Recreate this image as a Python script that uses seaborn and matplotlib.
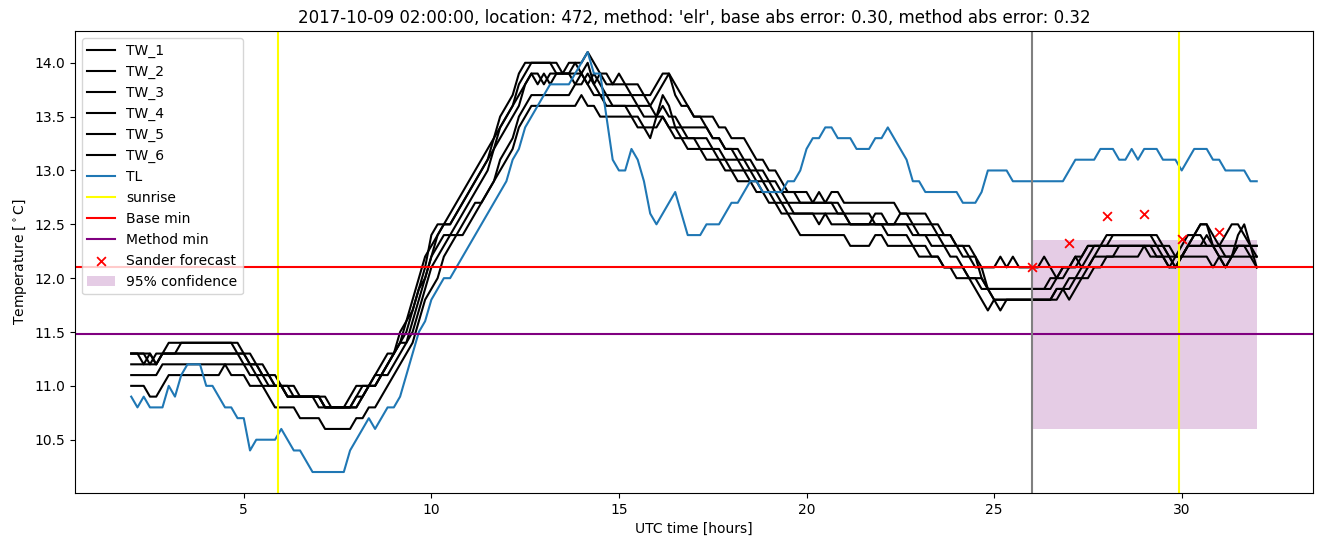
import numpy as np
import matplotlib
matplotlib.use("Agg")
import matplotlib.pyplot as plt
import seaborn as sns

# ---------------- data (hour of change, value) ----------------
T_START, T_END, STEPS_PER_HOUR = 2.0, 32.0, 6

TW_1 = [(2.0,11.3),(2.5,11.2),(2.67,11.3),(3.0,11.4),(4.83,11.3),(5.17,11.2),(5.5,11.1),(5.83,11.0),
        (6.17,10.9),(7.0,10.8),(7.83,10.9),(8.0,11.0),(8.5,11.1),(8.67,11.2),(8.83,11.3),(9.17,11.4),
        (9.33,11.6),(9.5,11.7),(9.67,11.9),(9.83,12.1),(10.0,12.4),(10.17,12.5),(10.5,12.6),(10.67,12.7),
        (10.83,12.8),(11.0,12.9),(11.17,13.0),(11.33,13.1),(11.5,13.2),(11.67,13.3),(11.83,13.5),(12.0,13.6),
        (12.17,13.7),(12.33,13.9),(12.5,14.0),(13.33,13.9),(13.83,14.0),(14.17,14.1),(14.33,14.0),(14.5,13.9),
        (14.83,13.8),(15.0,13.9),(15.17,13.8),(15.67,13.7),(16.0,13.8),(16.17,13.9),(16.5,13.8),(16.67,13.7),
        (16.83,13.6),(17.0,13.5),(17.67,13.4),(18.0,13.3),(18.5,13.2),(18.67,13.1),(19.0,13.0),(19.33,12.9),
        (19.5,12.8),(20.17,12.7),(20.33,12.8),(20.5,12.7),(20.67,12.8),(21.0,12.7),(22.5,12.6),(23.33,12.5),
        (23.67,12.4),(24.0,12.3),(24.5,12.2),(24.67,12.1),(25.17,12.2),(25.33,12.1),(25.5,12.2),(25.67,12.1),
        (26.33,12.2),(26.5,12.1),(26.67,12.0),(26.83,12.1),(27.33,12.2),(27.5,12.3),(28.0,12.4),(29.33,12.3),
        (29.5,12.2),(29.67,12.1),(29.83,12.2),(30.0,12.3),(30.17,12.4),(30.5,12.5),(30.83,12.4),(31.0,12.3),
        (31.17,12.4),(31.33,12.5),(31.67,12.4),(31.83,12.3),(32.0,12.2)]

TW_2 = [(2.0,11.3),(2.67,11.2),(2.83,11.3),(3.33,11.4),(5.0,11.3),(5.33,11.2),(5.67,11.1),(6.0,11.0),
        (6.5,10.9),(7.17,10.8),(8.0,10.9),(8.17,11.0),(8.5,11.1),(8.83,11.2),(9.0,11.3),(9.17,11.4),
        (9.33,11.5),(9.5,11.7),(9.67,11.9),(9.83,12.0),(10.0,12.2),(10.17,12.4),(10.33,12.5),(10.67,12.6),
        (10.83,12.7),(11.0,12.8),(11.17,12.9),(11.33,13.0),(11.5,13.1),(11.67,13.3),(11.83,13.4),(12.0,13.5),
        (12.17,13.6),(12.33,13.8),(12.5,13.9),(12.67,14.0),(13.5,13.9),(13.67,14.0),(14.0,13.9),(14.17,14.0),
        (14.33,13.8),(14.5,13.9),(14.67,13.8),(15.33,13.7),(15.83,13.6),(16.0,13.7),(16.17,13.8),(16.33,13.9),
        (16.5,13.7),(16.67,13.6),(17.0,13.5),(17.33,13.4),(17.5,13.3),(17.83,13.2),(18.17,13.1),(18.5,13.0),
        (18.83,12.9),(19.17,12.8),(19.5,12.7),(21.0,12.6),(21.83,12.5),(22.5,12.6),(22.83,12.5),(23.5,12.4),
        (24.0,12.3),(24.33,12.2),(24.67,12.0),(24.83,11.9),(25.0,11.8),(26.67,11.9),(27.0,12.0),(27.33,12.1),
        (27.67,12.2),(27.83,12.3),(28.17,12.4),(29.5,12.3),(29.67,12.2),(29.83,12.1),(30.0,12.2),(30.17,12.3),
        (30.67,12.4),(30.83,12.3),(31.0,12.2),(31.17,12.1),(31.33,12.2),(31.5,12.3)]

TW_3 = [(2.0,11.2),(2.83,11.3),(5.0,11.2),(5.33,11.1),(5.83,11.0),(6.33,10.9),(7.17,10.8),(8.0,10.9),
        (8.33,11.0),(8.67,11.1),(8.83,11.2),(9.0,11.3),(9.17,11.4),(9.5,11.6),(9.67,11.8),(9.83,12.0),
        (10.0,12.2),(10.17,12.3),(10.33,12.4),(10.67,12.5),(10.83,12.6),(11.0,12.7),(11.17,12.8),(11.33,12.9),
        (11.5,13.0),(11.67,13.2),(11.83,13.3),(12.0,13.4),(12.17,13.5),(12.33,13.6),(12.5,13.8),(12.67,13.9),
        (12.83,13.8),(13.0,13.9),(13.17,13.8),(13.33,13.9),(13.83,13.8),(14.0,13.9),(14.17,13.8),(14.33,13.9),
        (14.5,13.8),(14.67,13.7),(15.5,13.6),(16.0,13.5),(16.17,13.6),(16.33,13.5),(16.67,13.4),(17.5,13.3),
        (17.83,13.2),(18.33,13.1),(18.67,13.0),(19.0,12.9),(19.33,12.8),(19.83,12.7),
        (20.83,12.6),(21.17,12.5),(21.83,12.6),(22.17,12.5),(23.0,12.4),(23.67,12.3),(24.17,12.2),(24.5,12.1),
        (24.83,11.9),(25.0,11.8),(25.17,11.7),(25.33,11.8),(26.67,11.9),(27.0,11.8),(27.17,11.9),(27.33,12.0),
        (27.67,12.1),(28.0,12.2),(28.33,12.3),(29.67,12.2),(30.17,12.3),(30.33,12.4),(30.67,12.3),(31.17,12.2),
        (31.5,12.3),(31.83,12.2),(32.0,12.1)]

TW_4 = [(2.0,11.1),(2.83,11.2),(5.17,11.1),(5.5,11.0),(6.17,10.9),(7.33,10.8),(8.17,10.9),(8.33,11.0),
        (8.67,11.1),(9.0,11.2),(9.17,11.3),(9.33,11.4),(9.5,11.5),(9.67,11.7),(9.83,11.9),(10.0,12.1),
        (10.17,12.2),(10.33,12.3),(10.5,12.4),(10.83,12.5),(11.0,12.6),(11.17,12.7),(11.5,12.8),(11.67,12.9),
        (11.83,13.1),(12.0,13.2),(12.17,13.3),(12.33,13.5),(12.5,13.6),(12.67,13.7),(13.83,13.8),(14.17,13.9),
        (14.33,13.8),(14.5,13.7),(14.67,13.6),(15.33,13.5),(15.67,13.4),(15.83,13.3),(16.0,13.5),(16.17,13.7),
        (16.33,13.6),(16.5,13.4),(16.67,13.3),(17.17,13.2),(17.67,13.1),(18.0,13.0),(18.5,12.9),(18.83,12.8),
        (19.17,12.7),(19.5,12.6),(21.17,12.5),(22.83,12.4),(23.33,12.3),(23.83,12.2),(24.17,12.1),(24.33,12.0),
        (24.83,11.9),(26.5,12.0),(26.83,12.1),(27.17,12.2),(27.5,12.3),(29.5,12.3),(29.83,12.2),(30.17,12.3)]

TW_5 = [(2.0,11.0),(2.5,10.9),(2.83,11.0),(3.0,11.1),(4.5,11.2),(4.67,11.1),(5.17,11.0),(5.67,10.9),
        (5.83,10.8),(6.5,10.7),(7.17,10.6),(8.0,10.7),(8.33,10.8),(8.67,10.9),(8.83,11.0),(9.0,11.1),
        (9.17,11.2),(9.33,11.3),(9.5,11.4),(9.67,11.6),(9.83,11.8),(10.0,11.9),(10.17,12.0),(10.33,12.2),
        (10.5,12.3),(10.67,12.4),(11.0,12.5),(11.17,12.6),(11.33,12.7),(11.5,12.8),(11.67,12.9),(11.83,13.0),
        (12.0,13.1),(12.17,13.2),(12.33,13.4),(12.5,13.5),(12.67,13.6),(14.0,13.7),(14.17,13.6),
        (14.5,13.5),(15.5,13.4),(16.17,13.5),(16.33,13.4),(16.5,13.3),
        (16.83,13.2),(17.33,13.1),(17.83,13.0),(18.17,12.9),(18.67,12.8),(19.0,12.7),(19.33,12.6),(19.67,12.5),
        (19.83,12.4),(21.17,12.3),(21.83,12.4),(22.17,12.3),(23.0,12.2),(23.67,12.1),(24.0,12.0),(24.5,11.9),
        (24.67,11.8),(24.83,11.7),(25.0,11.8),(26.83,11.9),(27.17,12.0),(27.5,12.1),(27.67,12.2),(29.0,12.3),
        (29.17,12.2),(29.83,12.1),(30.0,12.2),(30.83,12.1),(31.0,12.2)]

TW_6 = [(2.0,11.3),(2.33,11.2),(2.5,11.3),(2.67,11.2),(2.83,11.3),(5.17,11.2),(5.5,11.1),(5.67,11.0),
        (6.17,10.9),(7.17,10.8),(8.17,10.9),(8.33,11.0),(8.67,11.1),(8.83,11.2),(9.0,11.3),(9.17,11.5),
        (9.33,11.6),(9.5,11.8),(9.67,12.0),(9.83,12.2),(10.0,12.3),(10.17,12.4),(10.33,12.5),(10.67,12.6),
        (10.83,12.7),(11.0,12.8),(11.17,12.9),(11.33,13.0),(11.5,13.1),(11.67,13.2),(11.83,13.4),(12.0,13.5),
        (12.17,13.6),(12.33,13.7),(12.5,13.8),(12.67,13.9),(13.0,13.8),(13.17,13.9),(14.17,13.8),(14.33,13.7),
        (14.83,13.6),(15.67,13.5),(16.33,13.4),(16.83,13.3),
        (17.5,13.2),(17.83,13.1),(18.33,13.0),(18.67,12.9),(19.0,12.8),(19.33,12.7),(19.67,12.6),
        (20.33,12.5),(20.5,12.6),(20.67,12.5),(22.17,12.4),(22.83,12.3),(23.33,12.2),(23.67,12.1),(24.33,12.0),
        (24.67,11.9),(26.67,12.0),(27.0,12.1),(27.17,12.2),(27.33,12.1),(27.5,12.2),(27.67,12.3),(29.33,12.2),
        (29.67,12.1),(30.0,12.2),(30.17,12.3),(30.33,12.4),(30.5,12.5),(30.83,12.3),(31.0,12.2),(31.17,12.1),
        (31.33,12.2),(31.5,12.4),(31.67,12.5),(31.83,12.3),(32.0,12.1)]

TL = [(2.0,10.9),(2.17,10.8),(2.33,10.9),(2.5,10.8),(3.0,11.0),(3.17,10.9),(3.33,11.1),(3.5,11.2),
      (4.0,11.0),(4.33,10.9),(4.5,10.8),(4.83,10.7),(5.17,10.4),(5.33,10.5),(6.0,10.6),(6.17,10.5),
      (6.33,10.4),(6.67,10.3),(6.83,10.2),(7.83,10.4),(8.0,10.5),(8.17,10.6),(8.33,10.7),(8.5,10.6),
      (8.67,10.7),(8.83,10.8),(9.17,10.9),(9.33,11.1),(9.5,11.3),(9.67,11.5),(9.83,11.6),(10.0,11.8),
      (10.17,11.9),(10.33,12.0),(10.67,12.1),(10.83,12.2),(11.0,12.3),(11.17,12.4),(11.33,12.5),(11.5,12.6),
      (11.67,12.7),(11.83,12.8),(12.0,12.9),(12.17,13.1),(12.33,13.2),(12.5,13.4),(12.67,13.5),(12.83,13.6),
      (13.0,13.7),(13.17,13.8),(13.83,13.9),(14.0,14.0),(14.17,14.1),(14.33,13.9),(14.67,13.5),(14.83,13.1),
      (15.0,13.0),(15.33,13.2),(15.5,13.1),(15.67,12.9),(15.83,12.6),(16.0,12.5),(16.17,12.6),(16.33,12.7),
      (16.5,12.8),(16.67,12.6),(16.83,12.4),(17.33,12.5),(17.83,12.6),(18.0,12.7),(18.33,12.8),(18.5,12.9),
      (18.83,12.8),(19.5,12.9),(19.83,13.0),(20.0,13.2),(20.17,13.3),(20.5,13.4),(20.83,13.3),(21.33,13.2),
      (21.83,13.3),(22.17,13.4),(22.33,13.3),(22.5,13.2),(22.67,13.1),(22.83,12.9),(23.17,12.8),(24.17,12.7),
      (24.67,12.8),(24.83,13.0),(25.5,12.9),(27.0,13.0),(27.17,13.1),(27.83,13.2),(28.33,13.1),(28.67,13.2),
      (28.83,13.1),(29.0,13.2),(29.5,13.1),(30.0,13.0),(30.17,13.1),(30.33,13.2),(30.83,13.1),(31.17,13.0),
      (31.83,12.9)]

SUNRISE_HOURS = [5.92, 29.93]
FORECAST_START = 26.0
BASE_MIN = 12.1
METHOD_MIN = 11.48
FORECAST_HOURS = [26, 27, 28, 29, 30, 31]
FORECAST_VALUES = [12.10, 12.33, 12.58, 12.60, 12.36, 12.43]
CONF_HOURS = [26, 32]
CONF_LOW = [10.6, 10.6]
CONF_HIGH = [12.35, 12.35]

TITLE = ("2017-10-09 02:00:00, location: 472, method: 'elr', "
         "base abs error: 0.30, method abs error: 0.32")

# ---------------- helpers ----------------
n_samples = int(round((T_END - T_START) * STEPS_PER_HOUR)) + 1
hours = T_START + np.arange(n_samples) / STEPS_PER_HOUR


def expand(pairs):
    idx = [int(round((h - T_START) * STEPS_PER_HOUR)) for h, _ in pairs]
    vals = [v for _, v in pairs]
    counts = np.diff(idx + [n_samples])
    return np.repeat(vals, counts)


# ---------------- plot ----------------
fig, ax = plt.subplots(figsize=(13.24, 5.47), dpi=100)
fig.subplots_adjust(left=0.0566, right=0.9917, top=0.9433, bottom=0.0987)

for name, series in [("TW_1", TW_1), ("TW_2", TW_2), ("TW_3", TW_3),
                     ("TW_4", TW_4), ("TW_5", TW_5), ("TW_6", TW_6)]:
    sns.lineplot(x=hours, y=expand(series), color="black", label=name, ax=ax, linewidth=1.5)

sns.lineplot(x=hours, y=expand(TL), color="#1f77b4", label="TL", ax=ax, linewidth=1.5)

for k, h in enumerate(SUNRISE_HOURS):
    ax.axvline(h, color="yellow", label="sunrise" if k == 0 else None)
ax.axhline(BASE_MIN, color="red", label="Base min")
ax.axhline(METHOD_MIN, color="purple", label="Method min")
ax.axvline(FORECAST_START, color="grey")

sns.scatterplot(x=FORECAST_HOURS, y=FORECAST_VALUES, marker="x", color="red",
                s=40, linewidth=1.3, label="Sander forecast", ax=ax, zorder=3)
ax.fill_between(CONF_HOURS, CONF_LOW, CONF_HIGH, color="purple", alpha=0.2,
                linewidth=0, label="95% confidence")

ax.set_title(TITLE, fontsize=12)
ax.set_xlabel("UTC time [hours]")
ax.set_ylabel(r"Temperature [$^\circ$C]")
ax.legend(loc="upper left")

fig.savefig("out.png", dpi=100)
